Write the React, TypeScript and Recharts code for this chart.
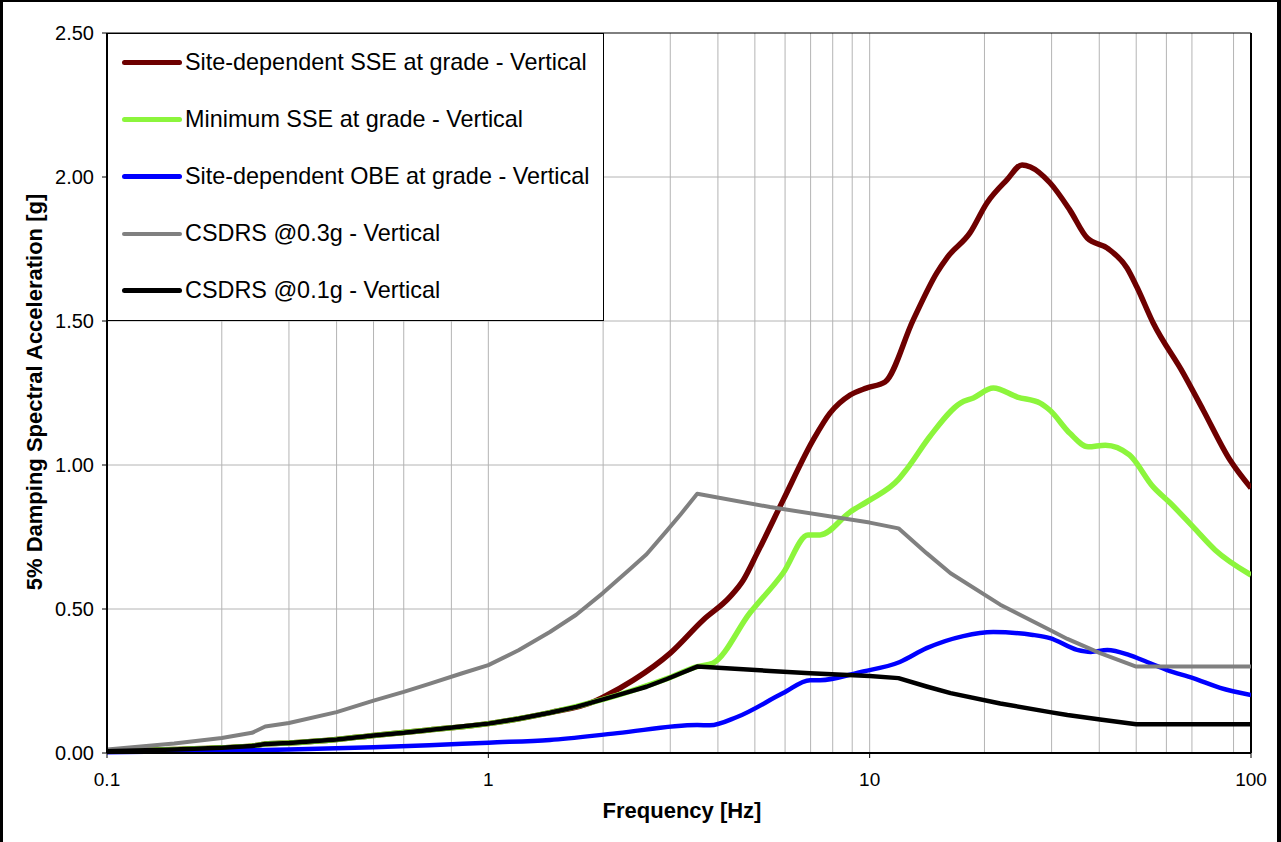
import { CartesianGrid, Line, LineChart, ReferenceLine, XAxis, YAxis } from "recharts";

// Response spectra: frequency [Hz] and 5% damped acceleration [g]
const sseFreq = [0.1, 0.15, 0.2, 0.24, 0.26, 0.3, 0.4, 0.5, 0.7, 1, 1.45, 1.9, 2.0, 2.4, 3.0, 3.66, 4.3, 4.66, 5.07, 5.93, 7.11, 7.87, 8.89, 9.8, 10.97, 13, 15, 16, 18.3, 20.3, 22.9, 25.1, 26.4, 29.7, 33.5, 37.2, 42, 47.3, 50.2, 55.4, 66.4, 74.9, 88.1, 100];
const sseAcc = [0.006, 0.012, 0.018, 0.024, 0.031, 0.035, 0.047, 0.061, 0.08, 0.102, 0.14, 0.18, 0.194, 0.253, 0.347, 0.462, 0.542, 0.6, 0.694, 0.878, 1.087, 1.18, 1.243, 1.267, 1.288, 1.503, 1.667, 1.722, 1.805, 1.91, 1.99, 2.042, 2.035, 1.98, 1.885, 1.788, 1.753, 1.684, 1.618, 1.493, 1.319, 1.191, 1.017, 0.92];

const minFreq = [0.1, 0.15, 0.2, 0.24, 0.26, 0.3, 0.4, 0.5, 0.7, 1, 1.45, 2, 2.35, 2.94, 3.53, 3.88, 4.85, 5.93, 6.89, 7.41, 8.89, 10, 11.9, 12.5, 14.4, 17.3, 18.7, 21.1, 24.4, 28, 29.7, 33.5, 37.4, 41.5, 48, 55.4, 61.4, 70.5, 80.5, 100];
const minAcc = [0.006, 0.012, 0.018, 0.024, 0.031, 0.035, 0.047, 0.061, 0.08, 0.102, 0.14, 0.186, 0.214, 0.258, 0.3, 0.312, 0.486, 0.625, 0.757, 0.757, 0.837, 0.878, 0.95, 0.985, 1.1, 1.215, 1.233, 1.267, 1.236, 1.215, 1.19, 1.11, 1.063, 1.069, 1.035, 0.924, 0.868, 0.785, 0.705, 0.618];

const obeFreq = [0.1, 0.2, 0.3, 0.5, 0.7, 1, 1.45, 2.18, 3.53, 3.81, 4.49, 5.93, 6.98, 7.41, 9.44, 12, 14.1, 17.6, 21.1, 26.8, 29.7, 35, 38, 42, 48, 53.4, 60.3, 70.5, 83, 100];
const obeAcc = [0.003, 0.008, 0.012, 0.02, 0.027, 0.036, 0.045, 0.069, 0.097, 0.096, 0.125, 0.208, 0.253, 0.253, 0.281, 0.316, 0.364, 0.406, 0.42, 0.41, 0.399, 0.358, 0.351, 0.358, 0.34, 0.316, 0.288, 0.26, 0.226, 0.201];

const csdrs3Freq = [0.1, 0.15, 0.2, 0.24, 0.26, 0.3, 0.4, 0.5, 0.6, 0.7, 0.85, 1, 1.2, 1.45, 1.7, 2, 2.35, 2.6, 2.94, 3.2, 3.53, 5.48, 10, 11.9, 14.1, 16.3, 22, 29.7, 33, 40.2, 50, 100];
const csdrs3Acc = [0.012, 0.033, 0.052, 0.07, 0.092, 0.104, 0.142, 0.182, 0.212, 0.24, 0.276, 0.305, 0.357, 0.42, 0.48, 0.556, 0.638, 0.69, 0.772, 0.83, 0.9, 0.854, 0.8, 0.78, 0.694, 0.624, 0.515, 0.427, 0.396, 0.347, 0.3, 0.3];

const csdrs1Freq = [0.1, 0.15, 0.2, 0.24, 0.26, 0.3, 0.4, 0.5, 0.6, 0.7, 0.85, 1, 1.2, 1.45, 1.7, 2, 2.35, 2.6, 2.94, 3.2, 3.53, 5.48, 6.98, 10, 11.9, 14.1, 16.3, 22, 29.7, 33, 40.2, 50, 100];
const csdrs1Acc = [0.006, 0.012, 0.018, 0.024, 0.031, 0.035, 0.047, 0.061, 0.07, 0.08, 0.092, 0.102, 0.119, 0.14, 0.16, 0.186, 0.213, 0.23, 0.257, 0.277, 0.3, 0.285, 0.277, 0.267, 0.26, 0.231, 0.208, 0.172, 0.142, 0.132, 0.116, 0.1, 0.1];

const xTicks = [0.1, 1, 10, 100];
const yTicks = [0, 0.5, 1, 1.5, 2, 2.5];
const xGrid = [0.2, 0.3, 0.4, 0.5, 0.6, 0.7, 0.8, 0.9, 1, 2, 3, 4, 5, 6, 7, 8, 9, 10, 20, 30, 40, 50, 60, 70, 80, 90];
const yGrid = [0.5, 1, 1.5, 2];

const toPoints = (f: number[], a: number[]) => f.map((x, i) => ({ f: x, a: a[i] }));

const series = [
  { name: "Site-dependent SSE at grade - Vertical", color: "#6e0000", width: 5.5, curve: "monotone", data: toPoints(sseFreq, sseAcc) },
  { name: "Minimum SSE at grade - Vertical", color: "#8cf53c", width: 5.5, curve: "monotone", data: toPoints(minFreq, minAcc) },
  { name: "Site-dependent OBE at grade - Vertical", color: "#0000ff", width: 4.5, curve: "monotone", data: toPoints(obeFreq, obeAcc) },
  { name: "CSDRS @0.3g - Vertical", color: "#808080", width: 4, curve: "linear", data: toPoints(csdrs3Freq, csdrs3Acc) },
  { name: "CSDRS @0.1g - Vertical", color: "#000000", width: 4.5, curve: "linear", data: toPoints(csdrs1Freq, csdrs1Acc) },
] as const;

const FONT = '"Liberation Sans", Arial, sans-serif';

// Excel-style legend box sitting in the top-left corner of the plot area
function LegendBox() {
  return (
    <div
      style={{
        position: "absolute",
        left: 107,
        top: 33,
        boxSizing: "border-box",
        width: 497,
        height: 288,
        border: "1px solid #000",
        background: "#fff",
        fontSize: 23.4,
        color: "#000",
      }}
    >
      {series.map((s) => (
        <div key={s.name} style={{ height: 57, display: "flex", alignItems: "center" }}>
          <div style={{ marginLeft: 14, width: 60, height: s.width, background: s.color, borderRadius: 3 }} />
          <span style={{ marginLeft: 3, whiteSpace: "nowrap" }}>{s.name}</span>
        </div>
      ))}
    </div>
  );
}

export default function App() {
  return (
    <div style={{ position: "absolute", left: 0, top: 0, width: 1281, height: 842, background: "#fff", fontFamily: FONT }}>
      <LineChart width={1281} height={842} margin={{ top: 33, right: 30, left: 10, bottom: 49 }}>
        <CartesianGrid stroke="#b4b4b4" strokeWidth={1} verticalValues={xGrid} horizontalValues={yGrid} />
        <XAxis
          dataKey="f"
          type="number"
          scale="log"
          domain={[0.1, 100]}
          ticks={xTicks}
          allowDataOverflow
          height={40}
          tickSize={5}
          tickMargin={15}
          tickFormatter={(v: number) => String(v)}
          tick={{ fill: "#000", fontSize: 19, fontFamily: FONT }}
          axisLine={{ stroke: "#000", strokeWidth: 2 }}
          tickLine={{ stroke: "#000" }}
        />
        <YAxis
          type="number"
          domain={[0, 2.5]}
          ticks={yTicks}
          width={97}
          tickSize={5}
          tickMargin={8}
          tickFormatter={(v: number) => v.toFixed(2)}
          tick={{ fill: "#000", fontSize: 20, fontFamily: FONT }}
          axisLine={{ stroke: "#000", strokeWidth: 2 }}
          tickLine={{ stroke: "#000" }}
        />
        <ReferenceLine y={2.5} stroke="#000" strokeWidth={1} />
        <ReferenceLine x={100} stroke="#000" strokeWidth={2} />
        {series.map((s) => (
          <Line
            key={s.name}
            data={s.data as any}
            dataKey="a"
            name={s.name}
            type={s.curve}
            stroke={s.color}
            strokeWidth={s.width}
            strokeLinejoin="round"
            dot={false}
            activeDot={false}
            isAnimationActive={false}
          />
        ))}
      </LineChart>
      <LegendBox />
      <div
        style={{
          position: "absolute",
          left: 682,
          top: 799,
          transform: "translateX(-50%)",
          fontSize: 22,
          lineHeight: "24px",
          fontWeight: "bold",
          whiteSpace: "nowrap",
        }}
      >
        Frequency [Hz]
      </div>
      <div
        style={{
          position: "absolute",
          left: 35,
          top: 392,
          transform: "translate(-50%, -50%) rotate(-90deg)",
          fontSize: 22,
          lineHeight: "24px",
          fontWeight: "bold",
          whiteSpace: "nowrap",
        }}
      >
        5% Damping Spectral Acceleration [g]
      </div>
      <div
        style={{
          position: "absolute",
          left: 0,
          top: 0,
          width: 1281,
          height: 842,
          boxSizing: "border-box",
          borderLeft: "3px solid #000",
          borderTop: "2px solid #000",
          borderRight: "4px solid #000",
          pointerEvents: "none",
        }}
      />
    </div>
  );
}
